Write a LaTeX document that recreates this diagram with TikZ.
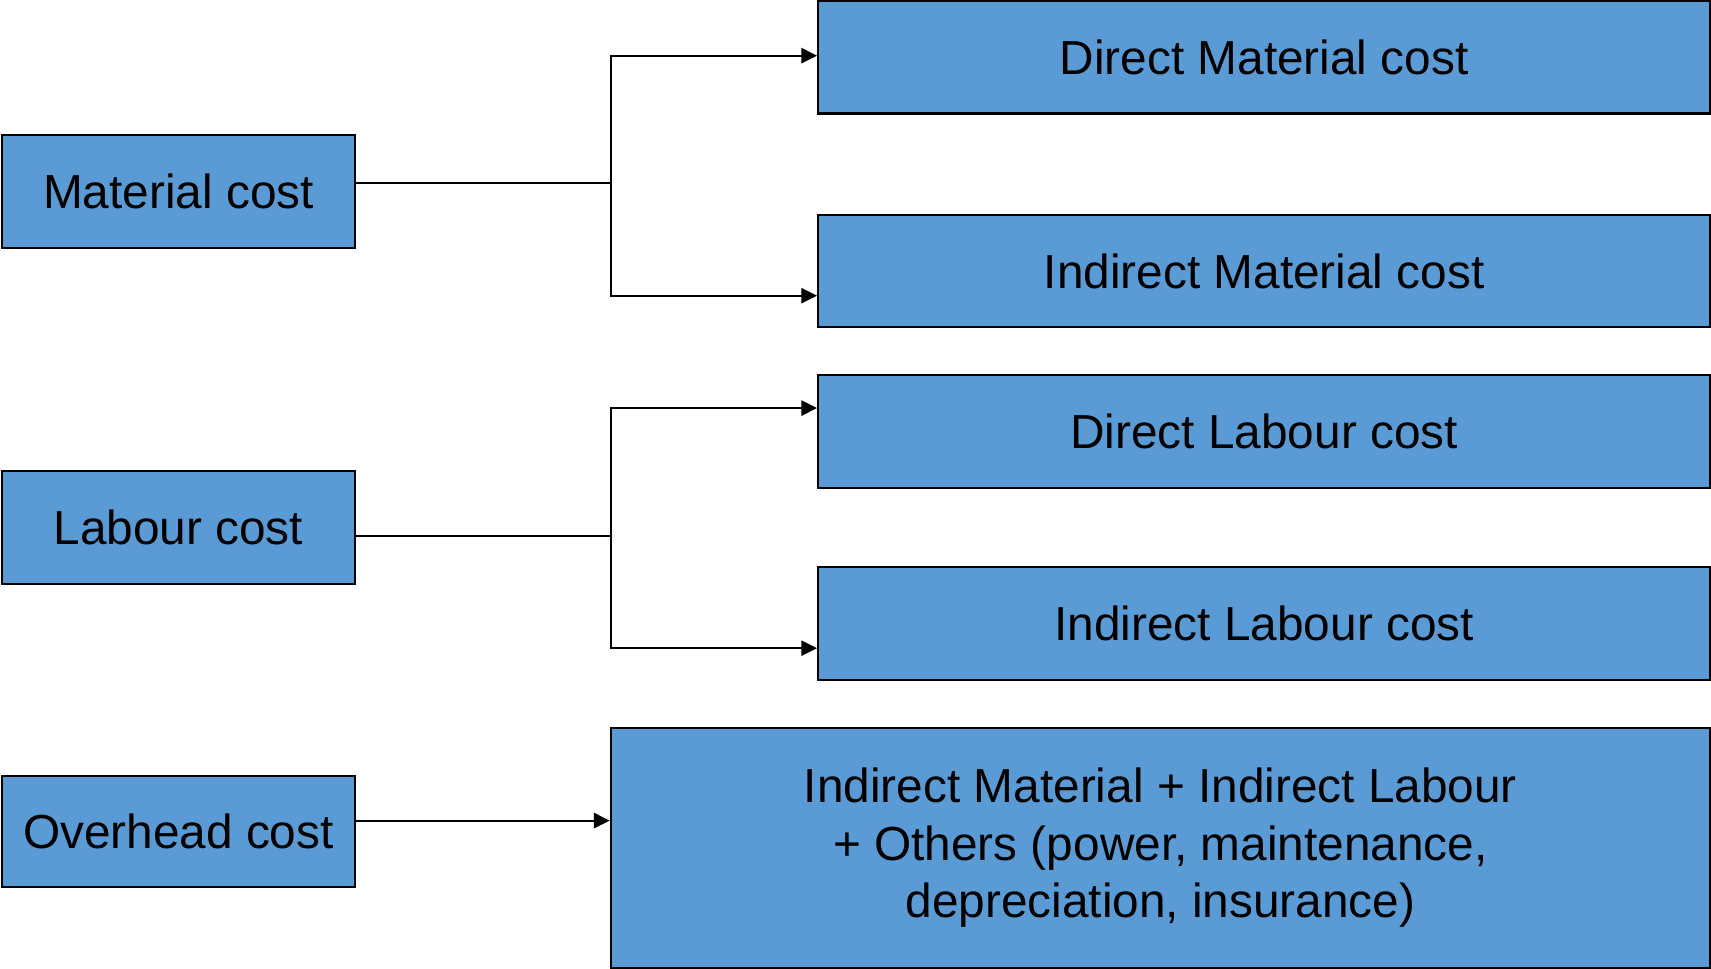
\documentclass[tikz,border=0pt]{standalone}
\usepackage{fontspec}
\setmainfont{Liberation Sans}
\usepackage{tikz}
\usetikzlibrary{arrows.meta,positioning,calc}

\begin{document}
\begin{tikzpicture}[x=0.01cm, y=-0.01cm, >={Triangle[length=1.45mm, width=1.4mm]}, line width=0.5pt]
\tikzstyle{cost}=[draw, line width=0.55pt, fill=costblue, minimum width=3.23cm, minimum height=1.03cm, inner sep=2pt, font=\fontsize{12.45}{14.94}\selectfont]
\tikzstyle{part}=[cost, minimum width=8.17cm]
\colorlet{costblue}{blue!0}
\definecolor{costblue}{HTML}{5B9BD5}
\useasboundingbox (0,0) rectangle (1568,888);

% left column
\node[cost] (mat) at (163.5,175.5) {Material cost};
\node[cost] (lab) at (163.5,483.5) {Labour cost};
\node[cost, minimum height=1.02cm] (ovh) at (163.5,762) {Overhead cost};

% right column
\node[part] (dmat) at (1158.5,52.5) {Direct Material cost};
\node[part] (imat) at (1158.5,248.5) {Indirect Material cost};
\node[part] (dlab) at (1158.5,395.5) {Direct Labour cost};
\node[part] (ilab) at (1158.5,571.5) {Indirect Labour cost};
\node[cost, minimum width=10.07cm, minimum height=2.2cm, align=center] (oth) at (1063.5,777)
  {Indirect Material + Indirect Labour\\+ Others (power, maintenance,\\depreciation, insurance)};

% branch points
\coordinate (mj) at (560,168);
\coordinate (lj) at (560,491);
\coordinate (oa) at ($(ovh.east)+(0,-10)$);

\draw (mat.east |- mj) -- (mj);
\draw[->] (mj) |- ($(dmat.west)+(0,-1.5)$);
\draw[->] (mj) |- ($(imat.west)+(0,22.5)$);

\draw (lab.east |- lj) -- (lj);
\draw[->] (lj) |- ($(dlab.west)+(0,-21.5)$);
\draw[->] (lj) |- ($(ilab.west)+(0,22.5)$);

\draw[->] (oa) -- (oa -| oth.west);
\end{tikzpicture}
\end{document}
